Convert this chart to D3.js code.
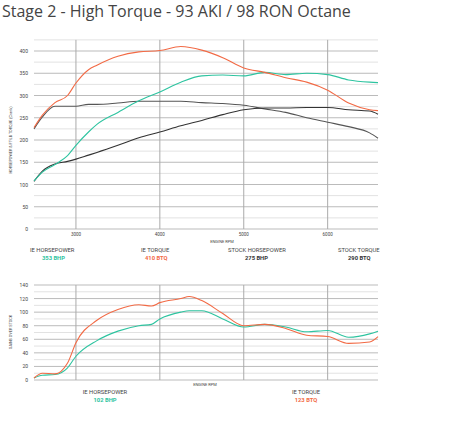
<!DOCTYPE html><html><head><meta charset="utf-8"><script src="https://d3js.org/d3.v7.min.js"></script>
<style>body{margin:0;background:#fff}</style></head><body><svg id="c" width="450" height="425"></svg><script>
const rpm=[2500,2600,2750,2900,3000,3150,3250,3500,3750,4000,4250,4500,4750,5000,5250,5500,5750,6000,6250,6500,6600];
const ieTorque=[228,256,284,300,328,358,368,388,398,401,410,402,385,362,352,340,330,312,283,268,266];
const ieHp=[108,128,145,165,188,218,235,262,288,308,330,344,346,344,352,347,350,347,335,330,329];
const stockTorque=[225,252,276,276,276,280,280,283,287,287,287,284,282,278,270,262,250,240,230,216,204];
const stockHp=[107,130,146,152,157,166,172,188,205,218,232,244,257,268,272,272,273,273,268,265,258];
const gainRpm=[2500,2600,2750,2900,3000,3250,3500,3750,3900,4000,4250,4350,4500,4750,5000,5250,5500,5750,6000,6250,6500,6600];
const gainHp=[3,7,8,18,35,58,72,80,82,90,100,102,102,90,78,82,78,71,73,63,68,72];
const gainTq=[3,10,9,25,55,88,104,111,109,114,120,123,117,98,80,82,76,66,64,54,56,64];
const topTicks=[0,50,100,150,200,250,300,350,400];
const botTicks=[0,20,40,60,80,100,120,140];
const xTicks=[3000,4000,5000,6000];
const OR="#f26a45",GR="#2ec4a0";
const svg=d3.select("#c");
svg.append("text").attr("x",2).attr("y",17).attr("font-family","Open Sans").attr("font-size",16).attr("fill","#444").text("Stage 2 - High Torque - 93 AKI / 98 RON Octane");
const x=d3.scaleLinear().domain([2500,6600]).range([34,378]);
function panel(y0,y1,dmax,ticks,minor,grid){
 const y=d3.scaleLinear().domain([0,dmax]).range([y0,y1]);
 const g=svg.append("g");
 for(let v=0;v<=grid;v+=minor){g.append("line").attr("x1",34).attr("x2",378).attr("y1",y(v)).attr("y2",y(v)).attr("stroke",ticks.includes(v)?"#bbb":"#e2e2e2").attr("stroke-width",1);}
 ticks.forEach(t=>g.append("text").attr("x",28).attr("y",y(t)+2).attr("text-anchor","end").attr("font-size",5).attr("font-family","Roboto").attr("fill","#444").text(t));
 xTicks.forEach(t=>g.append("line").attr("x1",x(t)).attr("x2",x(t)).attr("y1",y(grid)).attr("y2",y0).attr("stroke","#aaa").attr("stroke-width",1));
 return y;
}
const yT=panel(229,51,400,topTicks,25,425);
svg.append("g").selectAll("text").data(xTicks).join("text").attr("x",d=>x(d)).attr("y",236).attr("text-anchor","middle").attr("font-size",4.5).attr("font-family","Roboto").attr("fill","#444").text(d=>d);
svg.append("text").attr("x",222).attr("y",243).attr("text-anchor","middle").attr("font-size",4).attr("font-family","Roboto").attr("fill","#444").text("ENGINE RPM");
svg.append("text").attr("transform","translate(12,140) rotate(-90)").attr("text-anchor","middle").attr("font-size",3.8).attr("font-family","Roboto").attr("fill","#444").text("HORSEPOWER & FT-LB TORQUE (Crank)");
const ln=(xs,ys,y)=>d3.line().x((d,i)=>x(xs[i])).y(d=>y(d)).curve(d3.curveMonotoneX)(ys);
[[stockTorque,"#555"],[stockHp,"#333"],[ieHp,GR],[ieTorque,OR]].forEach(([d,c])=>svg.append("path").attr("d",ln(rpm,d,yT)).attr("fill","none").attr("stroke",c).attr("stroke-width",1.1));
const lab=(t,x0,y0,c,b,a)=>svg.append("text").attr("x",x0).attr("y",y0).attr("text-anchor",a||"start").attr("font-size",5.8).attr("font-family","Roboto").attr("font-weight",b?"bold":"normal").attr("fill",c).text(t);
lab("IE HORSEPOWER",30,252,"#444");lab("353 BHP",42,260,GR,1);
lab("IE TORQUE",141,252,"#444");lab("410 BTQ",145,260,OR,1);
lab("STOCK HORSEPOWER",228,252,"#444");lab("275 BHP",245,260,"#333",1);
lab("STOCK TORQUE",338,252,"#444");lab("290 BTQ",348,260,"#333",1);
const yB=panel(380,285,140,botTicks,10,140);
svg.append("text").attr("x",205).attr("y",386).attr("text-anchor","middle").attr("font-size",4).attr("font-family","Roboto").attr("fill","#444").text("ENGINE RPM");
svg.append("text").attr("transform","translate(12,332) rotate(-90)").attr("text-anchor","middle").attr("font-size",3.8).attr("font-family","Roboto").attr("fill","#444").text("GAINS OVER STOCK");
[[gainHp,GR],[gainTq,OR]].forEach(([d,c])=>svg.append("path").attr("d",ln(gainRpm,d,yB)).attr("fill","none").attr("stroke",c).attr("stroke-width",1.1));
lab("IE HORSEPOWER",105,394,"#444",0,"middle");lab("102 BHP",105,402,GR,1,"middle");
lab("IE TORQUE",306,394,"#444",0,"middle");lab("123 BTQ",306,402,OR,1,"middle");
</script></body></html>
